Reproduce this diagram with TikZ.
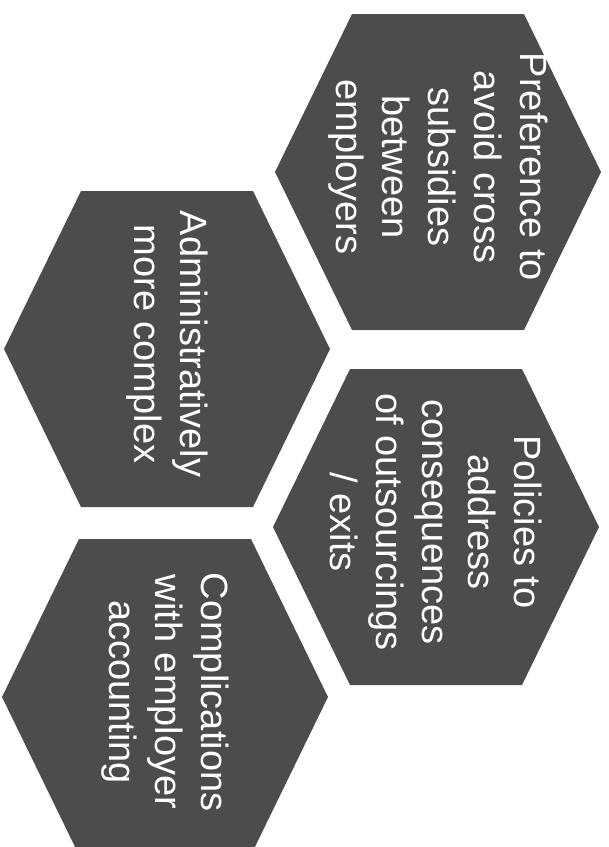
\documentclass[tikz,border=0pt]{standalone}
\usepackage{fontspec}
\setmainfont{Liberation Sans}
\definecolor{hexgray}{gray}{0.30}
\tikzset{
  hexfill/.style={fill=hexgray},
  hextext/.style={text=white, rotate=-90, align=center, inner sep=0pt,
    font=\fontsize{38}{46}\selectfont}
}
\newcommand{\hexpath}[3]{% name, x, y
  \coordinate (#1) at (#2,#3);
  \fill[hexfill, shift={(#2,#3)}] (-163,0) -- (-86,-158) -- (86,-158) -- (163,0) -- (86,158) -- (-86,158) -- cycle;
}
\begin{document}
\begin{tikzpicture}[x=1pt,y=-1pt]
\useasboundingbox (0,0) rectangle (609,847);
\hexpath{h1}{438}{172}
\hexpath{h2}{167}{349}
\hexpath{h3}{436}{527}
\hexpath{h4}{165}{697}
\node[hextext, xshift=-5pt] (t1) at (h1) {Preference to\\avoid cross\\subsidies\\between\\employers};
\node[hextext, xshift=-5pt] (t2) at (h2) {Administratively\\more complex};
\node[hextext, xshift=-5pt] (t3) at (h3) {Policies to\\address\\consequences\\of outsourcings\\/ exits};
\node[hextext, xshift=-5pt] (t4) at (h4) {Complications\\with employer\\accounting};
\end{tikzpicture}
\end{document}
